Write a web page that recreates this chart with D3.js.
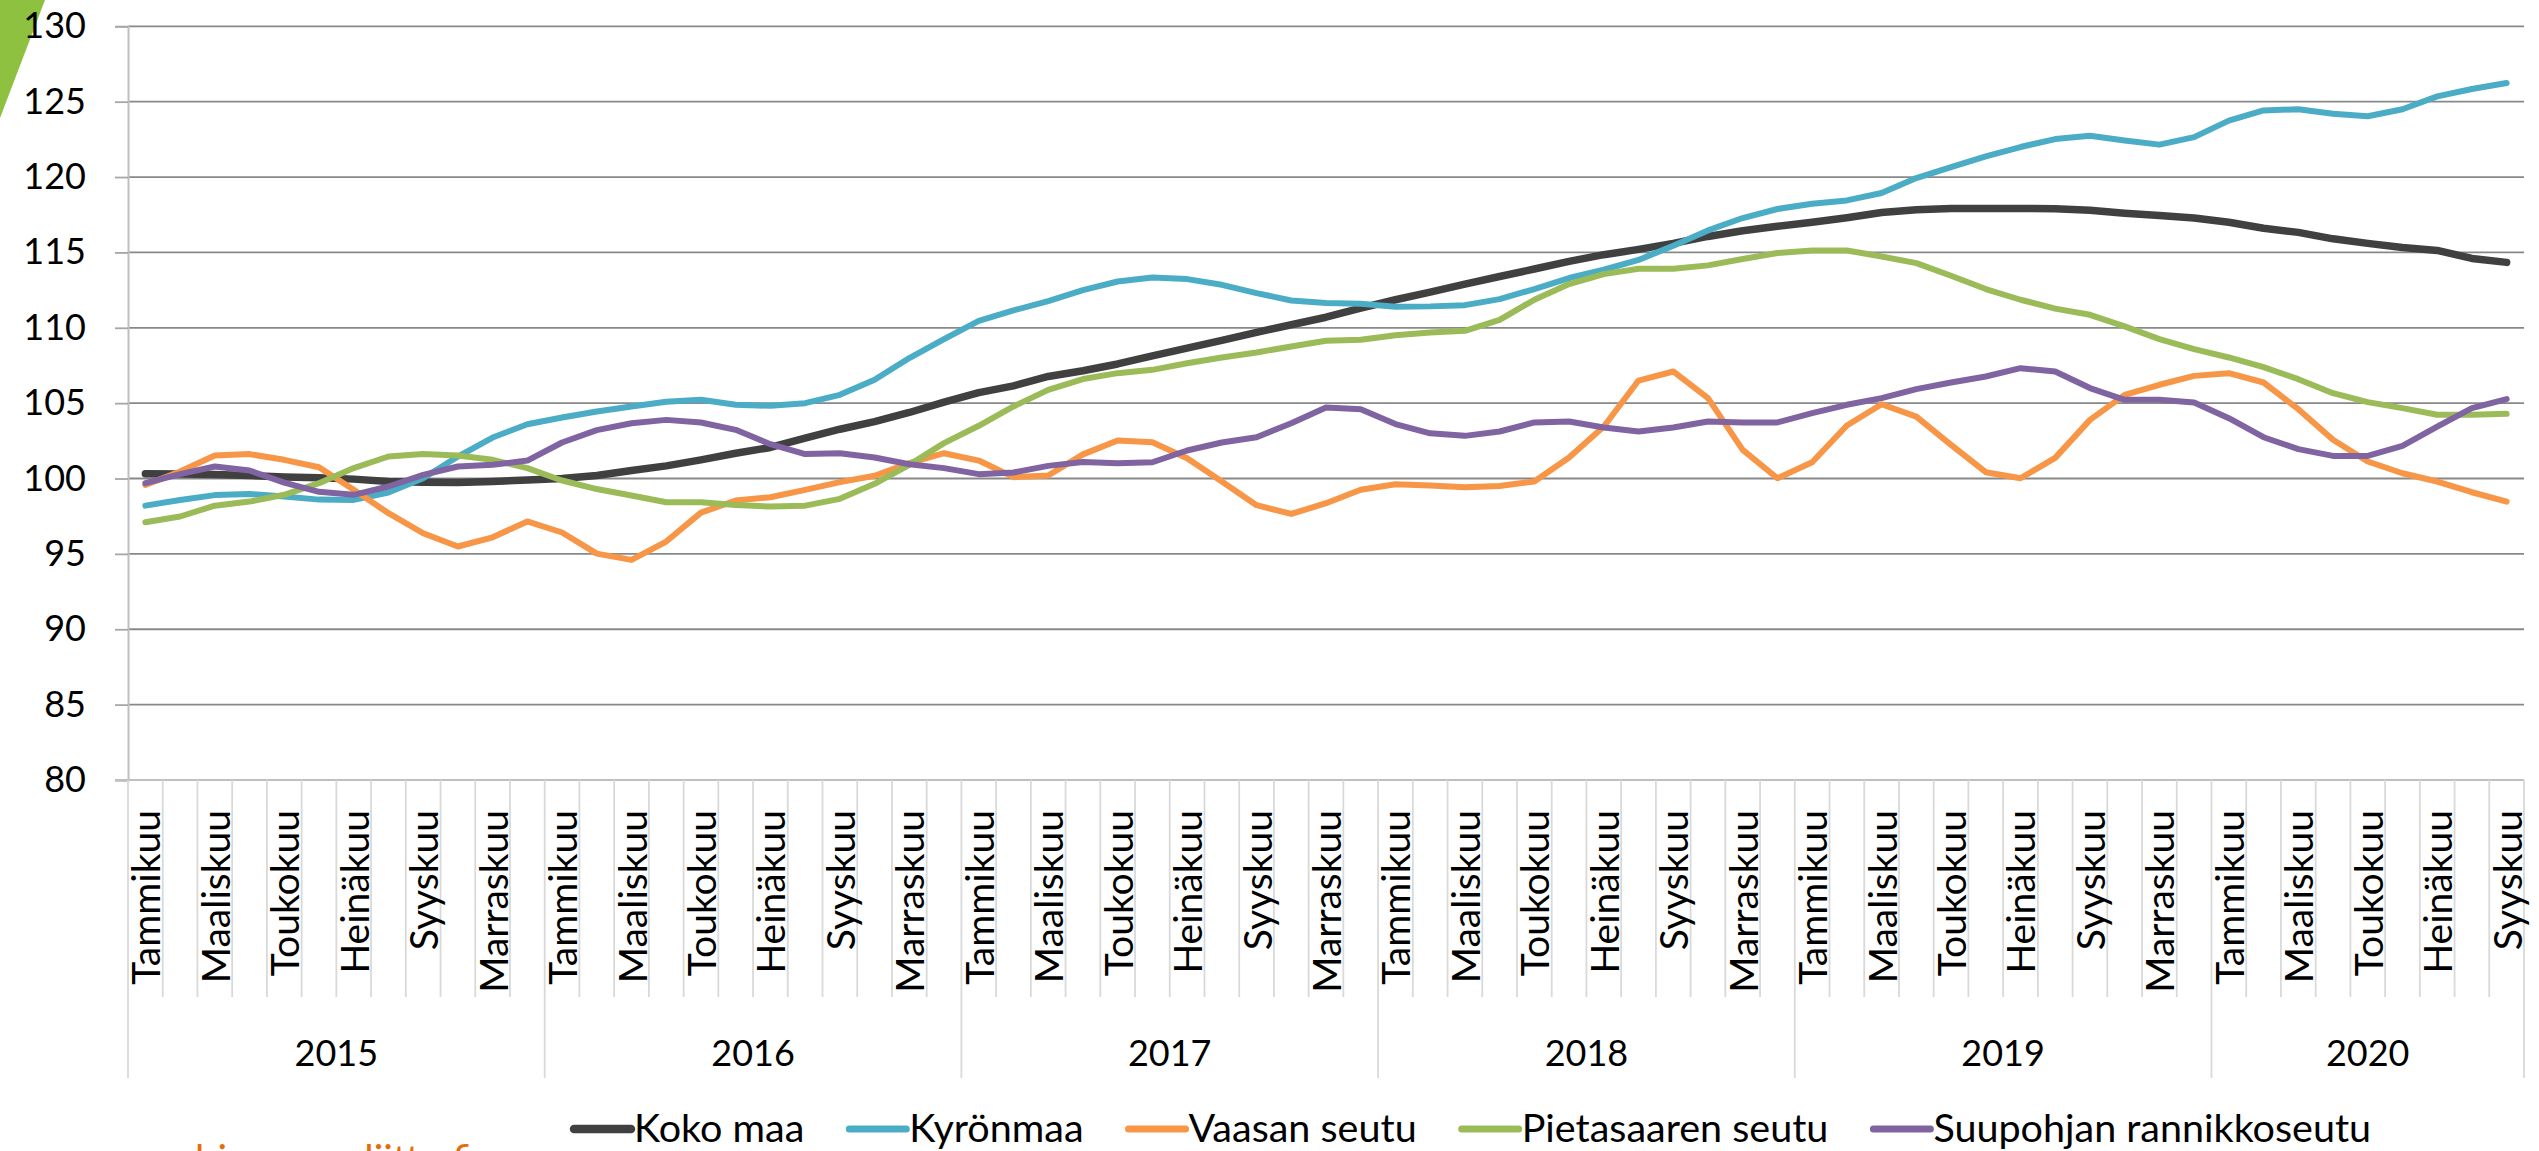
<!DOCTYPE html>
<html>
<head>
<meta charset="utf-8">
<script src="https://cdn.jsdelivr.net/npm/d3@7"></script>
<style>
  body { margin: 0; background: #fff; }
  text { font-family: Lato, "Open Sans", sans-serif; fill: #000; }
</style>
</head>
<body>
<div id="chart"></div>
<script>
// --- data ---
var years = [2015, 2016, 2017, 2018, 2019, 2020];
var monthsPerYear = [12, 12, 12, 12, 12, 9];
var monthNames = ["Tammikuu", "Helmikuu", "Maaliskuu", "Huhtikuu", "Toukokuu", "Kesäkuu",
                  "Heinäkuu", "Elokuu", "Syyskuu", "Lokakuu", "Marraskuu", "Joulukuu"];
var yTicks = [80, 85, 90, 95, 100, 105, 110, 115, 120, 125, 130];
var seriesNames = ["Koko maa", "Kyrönmaa", "Vaasan seutu", "Pietasaaren seutu", "Suupohjan rannikkoseutu"];

var kokoMaa = [100.31, 100.30, 100.27, 100.20, 100.10, 100.05, 99.96, 99.80, 99.75, 99.73, 99.80, 99.90,
  100.00, 100.20, 100.53, 100.84, 101.24, 101.68, 102.06, 102.68, 103.27, 103.78, 104.38, 105.07,
  105.70, 106.15, 106.77, 107.15, 107.60, 108.14, 108.65, 109.16, 109.70, 110.20, 110.70, 111.30,
  111.86, 112.37, 112.90, 113.40, 113.90, 114.40, 114.85, 115.20, 115.60, 116.06, 116.44, 116.73,
  117.00, 117.30, 117.65, 117.83, 117.92, 117.92, 117.92, 117.90, 117.79, 117.60, 117.45, 117.28,
  117.00, 116.60, 116.33, 115.90, 115.60, 115.33, 115.13, 114.60, 114.34];
var kyronmaa = [98.20, 98.58, 98.90, 98.98, 98.80, 98.60, 98.58, 99.07, 100.02, 101.46, 102.72, 103.60,
  104.05, 104.45, 104.78, 105.09, 105.22, 104.90, 104.82, 105.00, 105.55, 106.55, 107.99, 109.25,
  110.46, 111.15, 111.77, 112.50, 113.07, 113.34, 113.23, 112.85, 112.30, 111.81, 111.64, 111.60,
  111.40, 111.42, 111.50, 111.90, 112.57, 113.30, 113.85, 114.50, 115.44, 116.46, 117.28, 117.88,
  118.23, 118.45, 118.94, 119.93, 120.66, 121.37, 121.99, 122.52, 122.74, 122.43, 122.15, 122.65,
  123.74, 124.42, 124.50, 124.20, 124.03, 124.50, 125.35, 125.84, 126.24];
var vaasa = [99.58, 100.46, 101.53, 101.62, 101.24, 100.75, 99.25, 97.70, 96.37, 95.49, 96.10, 97.15,
  96.42, 95.02, 94.60, 95.82, 97.74, 98.54, 98.76, 99.25, 99.76, 100.18, 101.02, 101.68,
  101.19, 100.09, 100.20, 101.60, 102.52, 102.41, 101.35, 99.80, 98.23, 97.65, 98.36, 99.25,
  99.62, 99.54, 99.42, 99.51, 99.80, 101.40, 103.45, 106.50, 107.10, 105.33, 101.90, 100.02,
  101.08, 103.52, 104.93, 104.11, 102.23, 100.42, 100.02, 101.37, 103.89, 105.55, 106.22, 106.81,
  106.99, 106.37, 104.60, 102.57, 101.13, 100.35, 99.80, 99.09, 98.47];
var pietasaari = [97.10, 97.48, 98.20, 98.47, 98.92, 99.69, 100.69, 101.46, 101.62, 101.53, 101.24, 100.69,
  99.87, 99.30, 98.87, 98.43, 98.43, 98.25, 98.14, 98.20, 98.65, 99.65, 100.91, 102.35,
  103.50, 104.78, 105.88, 106.60, 106.99, 107.21, 107.65, 108.03, 108.36, 108.76, 109.14, 109.20,
  109.51, 109.69, 109.80, 110.53, 111.86, 112.90, 113.56, 113.92, 113.92, 114.14, 114.56, 114.96,
  115.13, 115.13, 114.73, 114.29, 113.45, 112.57, 111.86, 111.27, 110.86, 110.09, 109.25, 108.58,
  108.03, 107.39, 106.59, 105.66, 105.07, 104.67, 104.23, 104.23, 104.29];
var suupohja = [99.69, 100.29, 100.80, 100.53, 99.73, 99.12, 98.92, 99.47, 100.24, 100.80, 100.91, 101.19,
  102.39, 103.21, 103.67, 103.89, 103.72, 103.23, 102.28, 101.62, 101.68, 101.39, 100.95, 100.69,
  100.29, 100.40, 100.84, 101.10, 101.02, 101.08, 101.86, 102.39, 102.74, 103.67, 104.71, 104.60,
  103.61, 103.00, 102.83, 103.12, 103.72, 103.78, 103.38, 103.12, 103.38, 103.78, 103.72, 103.72,
  104.34, 104.89, 105.33, 105.93, 106.37, 106.77, 107.32, 107.10, 106.00, 105.22, 105.22, 105.04,
  104.00, 102.74, 101.95, 101.50, 101.50, 102.17, 103.45, 104.67, 105.27];

var seriesValues = [kokoMaa, kyronmaa, vaasa, pietasaari, suupohja];
var seriesColors = ["#404040", "#4bacc6", "#f79646", "#9bbb59", "#8064a2"];
var seriesWidths = [7.5, 6, 6, 6, 6];

// categories: one per month
var categories = [];
years.forEach(function(yr, k) {
  for (var m = 0; m < monthsPerYear[k]; m++) categories.push({year: yr, month: m, label: monthNames[m]});
});

// --- layout ---
var W = 2539, H = 1151;
var plotLeft = 128, plotRight = 2524, plotTop = 26.3, plotBottom = 780;

var svg = d3.select("#chart").append("svg").attr("width", W).attr("height", H);
svg.append("rect").attr("width", W).attr("height", H).attr("fill", "#fff");

// green corner shape
svg.append("path").attr("d", "M0,0L45,0L0,118Z").attr("fill", "#8dc13f");

var x = d3.scaleBand().domain(d3.range(categories.length)).range([plotLeft, plotRight]);
var y = d3.scaleLinear().domain([80, 130]).range([plotBottom, plotTop]);
var cx = function(i) { return x(i) + x.bandwidth() / 2; };

// gridlines
svg.append("g").selectAll("line").data(yTicks.filter(function(t) { return t > 80; }))
  .enter().append("line")
    .attr("x1", plotLeft).attr("x2", plotRight)
    .attr("y1", function(d) { return y(d); }).attr("y2", function(d) { return y(d); })
    .attr("stroke", "#888").attr("stroke-width", 1.8);

// y axis
var yAxis = svg.append("g").attr("transform", "translate(" + plotLeft + ",0)")
  .call(d3.axisLeft(y).tickValues(yTicks).tickSize(13).tickPadding(29));
yAxis.select(".domain").attr("stroke", "#bfbfbf").attr("stroke-width", 2);
yAxis.selectAll(".tick line").attr("stroke", "#a6a6a6").attr("stroke-width", 1.8);
yAxis.selectAll(".tick text").attr("font-size", 36).attr("font-family", "Lato, sans-serif").attr("fill", "#000");

// x axis baseline
svg.append("line").attr("x1", plotLeft - 13).attr("x2", plotRight).attr("y1", plotBottom).attr("y2", plotBottom)
  .attr("stroke", "#bfbfbf").attr("stroke-width", 2);

// category separators
var monthTickBottom = 997, yearTickBottom = 1078;
var bounds = d3.range(categories.length + 1);
svg.append("g").selectAll("line").data(bounds).enter().append("line")
  .attr("x1", function(i) { return i < categories.length ? x(i) : plotRight; })
  .attr("x2", function(i) { return i < categories.length ? x(i) : plotRight; })
  .attr("y1", plotBottom)
  .attr("y2", function(i) {
    var isYear = i === categories.length || categories[i].month === 0;
    return isYear ? yearTickBottom : monthTickBottom;
  })
  .attr("stroke", "#d9d9d9").attr("stroke-width", 1.8);

// month labels (every other month)
svg.append("g").selectAll("text")
  .data(categories.map(function(c, i) { return {c: c, i: i}; }).filter(function(d) { return d.c.month % 2 === 0; }))
  .enter().append("text")
    .attr("transform", function(d) { return "translate(" + cx(d.i) + ",810) rotate(-90)"; })
    .attr("text-anchor", "end")
    .attr("dominant-baseline", "central")
    .attr("font-size", 39)
    .text(function(d) { return d.c.label; });

// year labels
var start = 0;
years.forEach(function(yr, k) {
  var a = x(start), b = x(start + monthsPerYear[k] - 1) + x.bandwidth();
  svg.append("text").attr("x", (a + b) / 2).attr("y", 1052)
    .attr("text-anchor", "middle").attr("dominant-baseline", "central")
    .attr("font-size", 36).text(yr);
  start += monthsPerYear[k];
});

// series lines
var line = d3.line().x(function(d, i) { return cx(i); }).y(function(d) { return y(d); });
svg.append("g").selectAll("path").data(seriesValues).enter().append("path")
  .attr("d", line)
  .attr("fill", "none")
  .attr("stroke", function(d, i) { return seriesColors[i]; })
  .attr("stroke-width", function(d, i) { return seriesWidths[i]; })
  .attr("stroke-linejoin", "round")
  .attr("stroke-linecap", "round");

// legend
var legend = svg.append("g");
var lx = 574, ly = 1129;
seriesNames.forEach(function(name, i) {
  legend.append("line").attr("x1", lx).attr("x2", lx + 57).attr("y1", ly).attr("y2", ly)
    .attr("stroke", seriesColors[i]).attr("stroke-width", seriesWidths[i] + 1).attr("stroke-linecap", "round");
  var t = legend.append("text").attr("x", lx + 60).attr("y", ly - 3)
    .attr("dominant-baseline", "central").attr("font-size", 39.5).text(name);
  lx += 60 + t.node().getComputedTextLength() + 45;
});

// source text, cut off at the bottom edge
svg.append("text").attr("x", 150).attr("y", 1174).attr("font-size", 40)
  .style("fill", "#e46c0a").text("pohjanmaanliitto.fi");
</script>
</body>
</html>
